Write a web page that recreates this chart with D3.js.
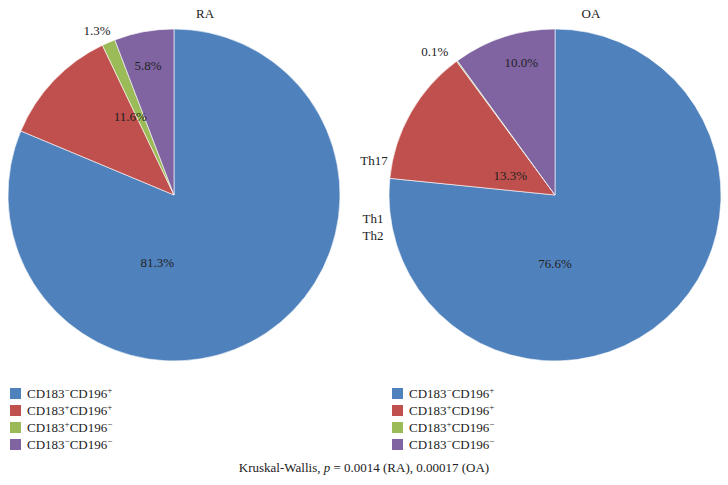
<!DOCTYPE html>
<html>
<head>
<meta charset="utf-8">
<script src="https://cdn.jsdelivr.net/npm/d3@7"></script>
<style>
  body { margin: 0; background: #fff; }
  text { font-family: "Liberation Serif", "DejaVu Serif", serif; fill: #222; }
</style>
</head>
<body>
<div id="chart"></div>
<script>
// -------- DATA --------
const categories = ["CD183⁻CD196⁺", "CD183⁺CD196⁺", "CD183⁺CD196⁻", "CD183⁻CD196⁻"];
const raValues = [81.3, 11.6, 1.3, 5.8];
const oaValues = [76.6, 13.3, 0.1, 10.0];
const groupNames = ["RA", "OA"];
const subsetLabels = ["Th17", "Th1", "Th2"];
const footnote = "Kruskal-Wallis, p = 0.0014 (RA), 0.00017 (OA)";

// -------- LAYOUT --------
const width = 728, height = 485;
const radius = 166;
const fontSize = "13px";
const colors = ["#4f81bd", "#c0504d", "#9bbb59", "#8064a2"];

// label placement per slice: [angle in degrees clockwise from top, distance from centre]
const raLabelPos = [[194, 69], [331, 90], [335, 182], [348.6, 132]];
const oaLabelPos = [[180, 68], [294, 49], [320, 187], [345.7, 137]];

const svg = d3.select("#chart").append("svg")
  .attr("width", width)
  .attr("height", height);

const color = d3.scaleOrdinal().domain(categories).range(colors);

const pie = d3.pie().sort(null).value(d => d.value);
const arc = d3.arc().innerRadius(0).outerRadius(radius);

const pies = [
  { name: groupNames[0], values: raValues, cx: 174, cy: 195, labels: raLabelPos, title: [205, 18] },
  { name: groupNames[1], values: oaValues, cx: 555, cy: 195, labels: oaLabelPos, title: [591, 18] }
];

pies.forEach(p => {
  const g = svg.append("g").attr("transform", `translate(${p.cx},${p.cy})`);
  const data = categories.map((c, i) => ({ cat: c, value: p.values[i] }));
  const arcs = pie(data);

  g.selectAll("path")
    .data(arcs)
    .join("path")
      .attr("d", arc)
      .attr("fill", d => color(d.data.cat))
      .attr("stroke", "#fff")
      .attr("stroke-width", 0.6);

  g.selectAll("text.val")
    .data(arcs)
    .join("text")
      .attr("class", "val")
      .attr("x", (d, i) => Math.sin(p.labels[i][0] * Math.PI / 180) * p.labels[i][1])
      .attr("y", (d, i) => -Math.cos(p.labels[i][0] * Math.PI / 180) * p.labels[i][1])
      .attr("dy", "0.35em")
      .attr("text-anchor", "middle")
      .style("font-size", fontSize)
      .text(d => d.data.value.toFixed(1) + "%");

  svg.append("text")
    .attr("x", p.title[0])
    .attr("y", p.title[1])
    .attr("text-anchor", "middle")
    .style("font-size", fontSize)
    .text(p.name);
});

// Th-Beschriftungen links vom OA-Kreis
svg.append("text").attr("x", 374).attr("y", 165).attr("text-anchor", "middle")
  .style("font-size", fontSize).text(subsetLabels[0]);
svg.append("text").attr("x", 373).attr("y", 223).attr("text-anchor", "middle")
  .style("font-size", fontSize).text(subsetLabels[1]);
svg.append("text").attr("x", 373).attr("y", 240).attr("text-anchor", "middle")
  .style("font-size", fontSize).text(subsetLabels[2]);

// -------- LEGENDS --------
[10, 392].forEach(lx => {
  const lg = svg.append("g").attr("transform", `translate(${lx},388)`);
  const row = lg.selectAll("g")
    .data(categories)
    .join("g")
      .attr("transform", (d, i) => `translate(0,${i * 17})`);
  row.append("rect")
    .attr("width", 11).attr("height", 11)
    .attr("fill", d => color(d));
  row.append("text")
    .attr("x", 17).attr("y", 10)
    .style("font-size", fontSize)
    .each(function(d) {
      const t = d3.select(this);
      const m = d.match(/CD183(.)CD196(.)/);
      const sup = s => s === "⁺" ? "+" : "−";
      t.append("tspan").text("CD183");
      t.append("tspan").attr("dy", -5).style("font-size", "9px").text(sup(m[1]));
      t.append("tspan").attr("dy", 5).text("CD196");
      t.append("tspan").attr("dy", -5).style("font-size", "9px").text(sup(m[2]));
    });
});

// -------- FOOTNOTE --------
const fn = svg.append("text")
  .attr("x", 364).attr("y", 472)
  .attr("text-anchor", "middle")
  .style("font-size", fontSize);
fn.append("tspan").text("Kruskal-Wallis, ");
fn.append("tspan").style("font-style", "italic").text("p");
fn.append("tspan").text(footnote.slice(footnote.indexOf(" = ")));
</script>
</body>
</html>
